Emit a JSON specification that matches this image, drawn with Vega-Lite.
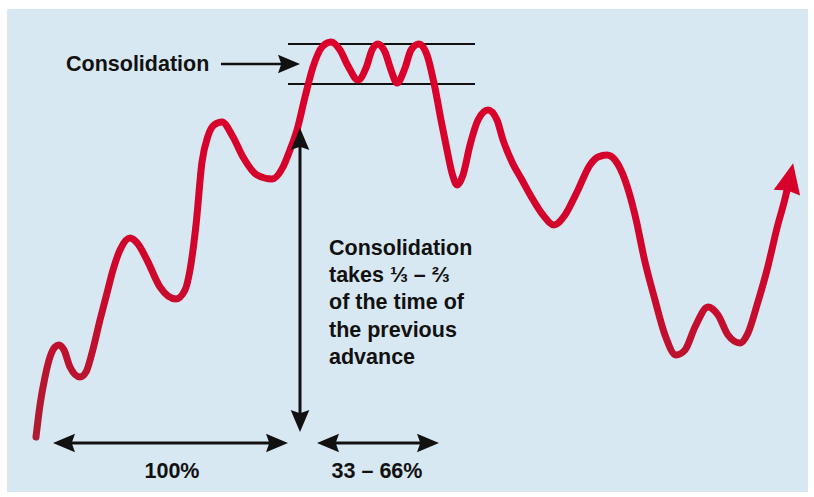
{
  "$schema": "https://vega.github.io/schema/vega-lite/v6.json",
  "width": 814,
  "height": 497,
  "padding": 0,
  "autosize": {"type": "fit", "contains": "padding"},
  "background": "white",
  "config": {"view": {"stroke": null}},
  "datasets": {
    "panel": [{"x": 7, "x2": 808, "y": 9, "y2": 492}],
    "curve": [
      {"x": 36, "y": 437}, {"x": 40, "y": 405}, {"x": 45, "y": 377}, {"x": 50, "y": 357}, {"x": 55, "y": 347},
      {"x": 59, "y": 345}, {"x": 64, "y": 350}, {"x": 70, "y": 367}, {"x": 80, "y": 377}, {"x": 86, "y": 372},
      {"x": 92, "y": 353}, {"x": 100, "y": 320}, {"x": 107, "y": 293}, {"x": 113, "y": 270}, {"x": 120, "y": 250},
      {"x": 130, "y": 238}, {"x": 138, "y": 244}, {"x": 147, "y": 260}, {"x": 160, "y": 287}, {"x": 176, "y": 299},
      {"x": 185, "y": 290}, {"x": 190, "y": 270}, {"x": 196, "y": 225}, {"x": 202, "y": 162}, {"x": 208, "y": 136},
      {"x": 214, "y": 125}, {"x": 222, "y": 122}, {"x": 233, "y": 137}, {"x": 243, "y": 157}, {"x": 257, "y": 175},
      {"x": 272, "y": 179}, {"x": 283, "y": 167}, {"x": 290, "y": 150}, {"x": 297, "y": 130}, {"x": 305, "y": 97},
      {"x": 313, "y": 67}, {"x": 322, "y": 47}, {"x": 331, "y": 42}, {"x": 340, "y": 50}, {"x": 348, "y": 66},
      {"x": 358, "y": 80}, {"x": 366, "y": 68}, {"x": 372, "y": 50}, {"x": 378, "y": 44}, {"x": 385, "y": 52},
      {"x": 391, "y": 70}, {"x": 397, "y": 83}, {"x": 405, "y": 68}, {"x": 411, "y": 50}, {"x": 419, "y": 44},
      {"x": 427, "y": 55}, {"x": 435, "y": 88}, {"x": 441, "y": 120}, {"x": 447, "y": 150}, {"x": 452, "y": 173},
      {"x": 457, "y": 185}, {"x": 463, "y": 175}, {"x": 470, "y": 145}, {"x": 478, "y": 120}, {"x": 488, "y": 110},
      {"x": 497, "y": 120}, {"x": 503, "y": 140}, {"x": 512, "y": 162}, {"x": 522, "y": 180}, {"x": 532, "y": 198},
      {"x": 543, "y": 215}, {"x": 554, "y": 225}, {"x": 565, "y": 215}, {"x": 577, "y": 192}, {"x": 590, "y": 165},
      {"x": 598, "y": 157}, {"x": 607, "y": 155}, {"x": 615, "y": 160}, {"x": 625, "y": 180}, {"x": 635, "y": 215},
      {"x": 645, "y": 262}, {"x": 655, "y": 300}, {"x": 665, "y": 335}, {"x": 676, "y": 355}, {"x": 685, "y": 350},
      {"x": 695, "y": 327}, {"x": 708, "y": 307}, {"x": 718, "y": 315}, {"x": 728, "y": 335}, {"x": 740, "y": 343},
      {"x": 748, "y": 333}, {"x": 757, "y": 305}, {"x": 767, "y": 270}, {"x": 777, "y": 228}, {"x": 787, "y": 190},
      {"x": 789, "y": 180}
    ],
    "redhead": [{"x": 790, "y": 178, "angle": 12}],
    "hlines": [{"x": 288, "x2": 475, "y": 44}, {"x": 288, "x2": 475, "y": 84}],
    "hshafts": [
      {"x": 221, "x2": 292, "y": 64, "w": 2.5},
      {"x": 60, "x2": 282, "y": 443, "w": 3},
      {"x": 323, "x2": 433, "y": 443, "w": 3}
    ],
    "vshafts": [{"x": 300, "y": 134, "y2": 426}],
    "heads": [
      {"x": 289, "y": 64, "angle": 90},
      {"x": 300, "y": 139, "angle": 0},
      {"x": 300, "y": 421, "angle": 180},
      {"x": 64, "y": 443, "angle": 270},
      {"x": 277, "y": 443, "angle": 90},
      {"x": 328, "y": 443, "angle": 270},
      {"x": 428, "y": 443, "angle": 90}
    ],
    "labels": [
      {"x": 66, "y": 71, "t": "Consolidation"},
      {"x": 329, "y": 255, "t": "Consolidation"},
      {"x": 329, "y": 282, "t": "takes ⅓ – ⅔"},
      {"x": 329, "y": 309, "t": "of the time of"},
      {"x": 329, "y": 337, "t": "the previous"},
      {"x": 329, "y": 364, "t": "advance"}
    ],
    "clabels": [
      {"x": 172, "y": 478, "t": "100%"},
      {"x": 377, "y": 478, "t": "33 – 66%"}
    ]
  },
  "encoding": {
    "x": {"field": "x", "type": "quantitative", "scale": {"domain": [0, 814], "nice": false, "zero": false}, "axis": null},
    "y": {"field": "y", "type": "quantitative", "scale": {"domain": [0, 497], "nice": false, "zero": false, "reverse": true}, "axis": null}
  },
  "layer": [
    {
      "data": {"name": "panel"},
      "mark": {"type": "rect", "color": "#d8e8f2"},
      "encoding": {"x2": {"field": "x2"}, "y2": {"field": "y2"}}
    },
    {
      "data": {"name": "hlines"},
      "mark": {"type": "rule", "color": "#111111", "strokeWidth": 2},
      "encoding": {"x2": {"field": "x2"}}
    },
    {
      "data": {"name": "curve"},
      "mark": {
        "type": "line",
        "interpolate": "monotone",
        "strokeWidth": 7,
        "strokeCap": "round",
        "stroke": {
          "gradient": "linear", "x1": 0, "y1": 0, "x2": 0, "y2": 1,
          "stops": [{"offset": 0, "color": "#dc002b"}, {"offset": 0.55, "color": "#d0062c"}, {"offset": 1, "color": "#ad1c31"}]
        }
      }
    },
    {
      "data": {"name": "redhead"},
      "mark": {"type": "point", "shape": "M0,-1L0.9,1L0,0.85L-0.9,1Z", "size": 900, "filled": true, "color": "#d6002b", "opacity": 1, "strokeWidth": 0},
      "encoding": {"angle": {"field": "angle", "type": "quantitative", "scale": null}}
    },
    {
      "data": {"name": "hshafts"},
      "mark": {"type": "rule", "color": "#111111"},
      "encoding": {"x2": {"field": "x2"}, "strokeWidth": {"field": "w", "type": "quantitative", "scale": null}}
    },
    {
      "data": {"name": "vshafts"},
      "mark": {"type": "rule", "color": "#111111", "strokeWidth": 3},
      "encoding": {"y2": {"field": "y2"}}
    },
    {
      "data": {"name": "heads"},
      "mark": {"type": "point", "shape": "M0,-1L0.85,1L0,0.7L-0.85,1Z", "size": 484, "filled": true, "color": "#111111", "opacity": 1, "strokeWidth": 0},
      "encoding": {"angle": {"field": "angle", "type": "quantitative", "scale": null}}
    },
    {
      "data": {"name": "labels"},
      "mark": {"type": "text", "align": "left", "baseline": "alphabetic", "font": "Liberation Sans", "fontWeight": "bold", "fontSize": 21.5, "color": "#111111"},
      "encoding": {"text": {"field": "t"}}
    },
    {
      "data": {"name": "clabels"},
      "mark": {"type": "text", "align": "center", "baseline": "alphabetic", "font": "Liberation Sans", "fontWeight": "bold", "fontSize": 21.5, "color": "#111111"},
      "encoding": {"text": {"field": "t"}}
    }
  ]
}
